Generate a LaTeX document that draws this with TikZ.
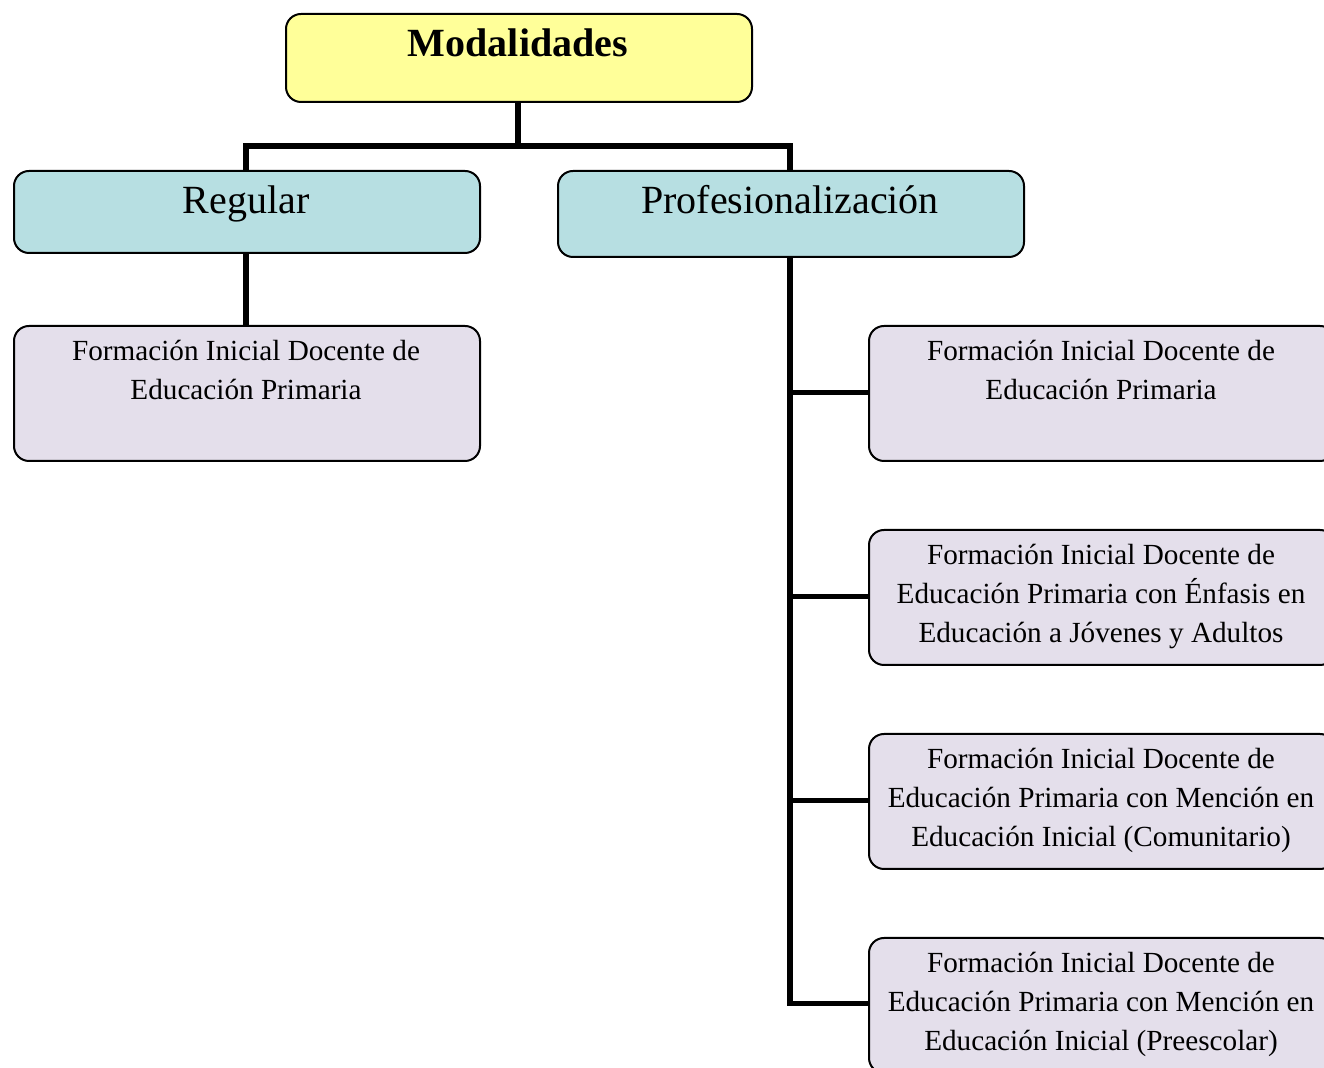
\documentclass[tikz,border=0pt]{standalone}
\usepackage{fontspec}
\setmainfont{Liberation Serif}
\definecolor{yel}{HTML}{FFFF99}
\definecolor{teal1}{HTML}{B7DFE2}
\definecolor{lav}{HTML}{E4DFEB}
\begin{document}
\begin{tikzpicture}[x=0.5pt,y=-0.5pt,
  box/.style={draw=black, line width=1pt, rounded corners=7.5pt, inner sep=0pt,
    anchor=north west, minimum width=233pt},
  topbox/.style={box, fill=yel, minimum height=44pt},
  midbox/.style={box, fill=teal1, minimum height=41pt},
  leafbox/.style={box, fill=lav, minimum height=67.5pt},
  big/.style={font=\fontsize{20}{24}\selectfont, inner sep=0pt, anchor=base},
  small/.style={font=\fontsize{14.6}{19.5}\selectfont, align=center, inner sep=0pt, anchor=north},
  conn/.style={line width=2.6pt}]
\useasboundingbox (0,0) rectangle (1324,1068);
\clip (0,0) rectangle (1324,1068);
% connectors
\coordinate (modb) at (518,101);
\coordinate (regt) at (246,170);
\coordinate (proft) at (790,170);
\draw[conn] (modb) -- (518,146) -| (regt);
\draw[conn] (518,146) -| (proft);
\draw[conn] (246,252) -- (246,325);
\draw[conn] (790,256) |- (868,392.5);
\draw[conn] (790,256) |- (868,596.5);
\draw[conn] (790,256) |- (868,800.5);
\draw[conn] (790,256) |- (868,1003.5);
% boxes
\node[topbox] (mod) at (285,13) {};
\node[midbox] (reg) at (13,170) {};
\node[midbox, minimum height=43pt] (prof) at (557,170) {};
\node[leafbox] (l0) at (13,325) {};
\node[leafbox] (r1) at (868,325) {};
\node[leafbox] (r2) at (868,529) {};
\node[leafbox] (r3) at (868,733) {};
\node[leafbox] (r4) at (868,937) {};
% texts
\node[big, font=\fontsize{20}{24}\bfseries\selectfont] (tmod) at (518,57) {Modalidades};
\node[big] (treg) at (246,214) {Regular};
\node[big] (tprof) at (790,214) {Profesionalización};
\node[small] (t0) at (246,340) {Formación Inicial Docente de\\Educación Primaria};
\node[small] (t1) at (1101,340) {Formación Inicial Docente de\\Educación Primaria};
\node[small] (t2) at (1101,544) {Formación Inicial Docente de\\Educación Primaria con Énfasis en\\Educación a Jóvenes y Adultos};
\node[small] (t3) at (1101,748) {Formación Inicial Docente de\\Educación Primaria con Mención en\\Educación Inicial (Comunitario)};
\node[small] (t4) at (1101,952) {Formación Inicial Docente de\\Educación Primaria con Mención en\\Educación Inicial (Preescolar)};
\end{tikzpicture}
\end{document}
